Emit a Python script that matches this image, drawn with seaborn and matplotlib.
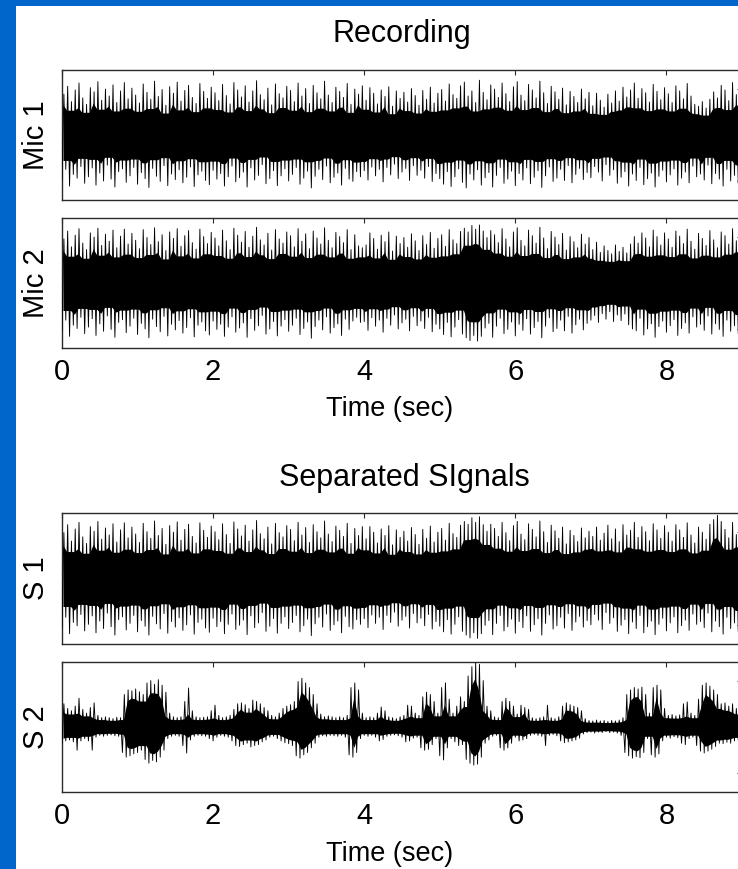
import numpy as np
import pandas as pd
import matplotlib
matplotlib.use("Agg")
import matplotlib.pyplot as plt
import seaborn as sns
from matplotlib.patches import Rectangle

# Envelope samples of each channel, one crest/trough pair every STEP seconds.
STEP = 0.05

mic1_hi = [
    0.88, 1.05, 0.72, 0.97, 1.12, 0.80, 0.66, 1.02, 0.93, 1.15, 0.75, 0.99, 0.84, 1.08, 0.70, 0.95, 1.13, 0.78, 1.01, 0.86,
    0.69, 1.10, 0.92, 0.77, 1.16, 0.83, 0.98, 0.64, 1.04, 0.90, 1.14, 0.73, 0.96, 1.07, 0.81, 0.68, 1.11, 0.94, 0.79, 1.03,
    0.91, 0.74, 1.09, 0.85, 0.67, 1.13, 0.97, 0.82, 1.06, 0.71, 0.95, 1.17, 0.87, 0.76, 1.01, 0.65, 1.10, 0.89, 0.80, 1.05,
    0.96, 0.72, 1.12, 0.84, 1.00, 0.68, 1.07, 0.91, 0.78, 1.16, 0.86, 0.70, 1.03, 0.94, 0.81, 1.11, 0.66, 0.99, 0.88, 1.06,
    0.75, 1.02, 0.90, 0.67, 0.97, 0.83, 1.04, 0.62, 0.95, 0.79, 0.92, 0.71, 1.00, 0.85, 0.64, 0.96, 0.77, 1.03, 0.69, 0.90,
    0.98, 0.73, 1.10, 0.87, 0.79, 1.06, 1.14, 0.84, 0.95, 0.70, 1.18, 0.92, 0.76, 1.08, 0.99, 0.81, 1.12, 0.89, 0.72, 1.04,
    1.15, 0.86, 0.74, 1.09, 0.97, 0.80, 1.16, 0.91, 0.68, 1.05, 0.93, 0.77, 1.01, 0.65, 0.94, 0.83, 0.70, 0.99, 0.78, 0.92,
    0.63, 0.90, 0.75, 0.60, 0.88, 0.69, 0.95, 0.73, 1.03, 0.82, 0.97, 1.12, 0.79, 1.00, 0.91, 0.71, 1.09, 0.94, 0.76, 1.02,
    0.89, 0.70, 1.06, 0.95, 0.78, 1.11, 0.84, 0.66, 0.62, 0.72, 0.58, 0.77, 0.93, 0.80, 1.07, 0.97, 0.74, 1.13, 0.87, 1.01,
]
mic1_lo = [
    -0.97, -0.74, -1.10, -0.85, -0.93, -0.68, -1.04, -0.90, -0.71, -1.08, -0.82, -0.99, -0.65, -0.95, -1.12, -0.79, -0.73, -1.02, -0.88, -0.70,
    -1.06, -0.81, -0.94, -1.13, -0.72, -0.89, -1.00, -0.66, -1.09, -0.84, -0.96, -0.75, -1.03, -0.91, -0.69, -1.11, -0.86, -0.78, -0.98, -1.07,
    -0.76, -0.95, -0.83, -1.10, -0.90, -0.67, -1.01, -0.92, -0.80, -1.12, -0.71, -0.97, -0.87, -0.64, -1.05, -0.94, -0.77, -1.09, -0.88, -0.73,
    -0.99, -0.85, -0.70, -1.06, -0.93, -0.78, -1.14, -0.89, -0.74, -0.96, -0.67, -1.03, -0.91, -0.82, -1.08, -0.72, -0.95, -1.00, -0.79, -0.90,
    -0.77, -0.97, -0.69, -0.88, -0.74, -1.01, -0.70, -0.86, -0.63, -0.94, -0.80, -0.72, -0.98, -0.66, -0.87, -0.76, -0.93, -0.68, -1.00, -0.83,
    -0.94, -1.06, -0.79, -1.11, -0.90, -0.73, -1.02, -1.14, -0.84, -0.97, -0.75, -1.08, -0.92, -0.81, -1.12, -0.87, -0.70, -1.04, -0.95, -0.78,
    -1.09, -0.83, -0.97, -0.71, -1.05, -0.91, -0.77, -1.13, -0.88, -0.69, -1.00, -0.93, -0.74, -0.98, -0.66, -1.03, -0.85, -0.72, -0.96, -0.81,
    -0.92, -0.68, -0.80, -0.99, -0.64, -0.87, -0.75, -1.04, -0.91, -0.79, -1.10, -0.84, -0.98, -0.70, -1.07, -0.94, -0.82, -1.12, -0.89, -0.76,
    -1.01, -0.86, -0.73, -1.08, -0.93, -0.80, -1.03, -0.67, -0.90, -0.84, -0.97, -0.65, -1.05, -0.83, -0.95, -1.10, -0.74, -0.99, -0.87, -1.04,
]

mic2_hi = [
    0.95, 1.12, 0.78, 1.03, 1.17, 0.86, 0.72, 1.08, 0.99, 1.18, 0.81, 1.05, 0.90, 1.14, 0.76, 1.01, 1.16, 0.84, 1.07, 0.92,
    0.74, 1.15, 0.98, 0.83, 1.19, 0.89, 1.04, 0.70, 1.10, 0.96, 1.17, 0.79, 1.02, 1.13, 0.87, 0.73, 1.16, 1.00, 0.85, 1.09,
    0.97, 0.80, 1.14, 0.91, 0.72, 1.18, 1.03, 0.88, 1.11, 0.77, 1.01, 1.20, 0.93, 0.82, 1.07, 0.71, 1.15, 0.95, 0.86, 1.10,
    1.02, 0.78, 1.17, 0.90, 1.06, 0.74, 1.12, 0.97, 0.84, 1.19, 0.92, 0.76, 1.09, 1.00, 0.87, 1.15, 0.72, 1.04, 0.80, 0.76,
    0.82, 1.08, 0.96, 0.73, 1.03, 0.89, 1.10, 0.69, 1.01, 0.85, 0.98, 0.77, 1.06, 0.91, 0.70, 1.02, 0.83, 1.09, 0.75, 0.96,
    1.04, 0.79, 1.15, 0.93, 0.85, 1.11, 1.18, 1.10, 1.24, 1.16, 1.25, 1.12, 0.98, 1.13, 1.04, 0.87, 1.17, 0.95, 0.78, 1.10,
    1.19, 0.92, 0.80, 1.14, 1.02, 0.86, 1.20, 0.97, 0.74, 1.11, 0.99, 0.83, 1.07, 0.71, 1.00, 0.89, 0.76, 1.05, 0.84, 0.98,
    0.72, 0.88, 0.66, 0.80, 0.70, 0.63, 0.82, 0.68, 0.77, 0.65, 0.84, 1.00, 0.86, 1.08, 0.97, 0.78, 1.14, 1.00, 0.82, 1.08,
    0.95, 0.77, 1.12, 1.01, 0.85, 1.16, 0.90, 0.73, 1.07, 0.96, 0.81, 1.13, 0.93, 0.76, 1.10, 1.02, 0.84, 1.17, 0.91, 1.05,
]
mic2_lo = [
    -1.03, -0.80, -1.15, -0.91, -0.98, -0.74, -1.09, -0.95, -0.77, -1.13, -0.88, -1.04, -0.71, -1.00, -1.17, -0.85, -0.79, -1.07, -0.93, -0.76,
    -1.11, -0.87, -0.99, -1.18, -0.78, -0.94, -1.05, -0.72, -1.14, -0.89, -1.01, -0.81, -1.08, -0.96, -0.75, -1.16, -0.91, -0.84, -1.03, -1.12,
    -0.82, -1.00, -0.89, -1.15, -0.95, -0.73, -1.06, -0.97, -0.86, -1.17, -0.77, -1.02, -0.92, -0.70, -1.10, -0.99, -0.83, -1.14, -0.93, -0.79,
    -1.04, -0.91, -0.76, -1.11, -0.98, -0.84, -1.19, -0.94, -0.80, -1.01, -0.73, -1.08, -0.96, -0.88, -1.13, -0.78, -1.00, -0.82, -0.74, -0.85,
    -0.83, -1.02, -0.75, -0.93, -0.80, -1.06, -0.76, -0.91, -0.69, -0.99, -0.86, -0.78, -1.03, -0.72, -0.92, -0.82, -0.98, -0.74, -1.05, -0.89,
    -0.99, -1.11, -0.85, -1.16, -0.95, -0.79, -1.10, -1.18, -1.24, -1.13, -1.25, -1.15, -0.97, -0.87, -1.17, -0.93, -0.76, -1.09, -1.00, -0.84,
    -1.14, -0.89, -1.02, -0.77, -1.10, -0.96, -0.83, -1.18, -0.93, -0.75, -1.05, -0.98, -0.80, -1.03, -0.72, -1.08, -0.90, -0.78, -1.01, -0.87,
    -0.80, -0.70, -0.85, -0.66, -0.78, -0.62, -0.83, -0.69, -0.81, -0.67, -0.90, -0.99, -1.03, -0.76, -1.12, -0.99, -0.88, -1.17, -0.94, -0.82,
    -1.06, -0.92, -0.79, -1.13, -0.98, -0.86, -1.08, -0.73, -0.95, -0.89, -1.02, -0.71, -1.10, -0.88, -1.00, -1.15, -0.80, -1.04, -0.92, -1.09,
]

s1_hi = [
    0.98, 1.15, 0.80, 1.06, 1.20, 0.89, 0.75, 1.11, 1.01, 1.22, 0.84, 1.08, 0.93, 1.17, 0.78, 1.04, 1.19, 0.87, 1.10, 0.95,
    0.77, 1.18, 1.00, 0.86, 1.23, 0.92, 1.07, 0.73, 1.13, 0.99, 1.21, 0.82, 1.05, 1.16, 0.90, 0.76, 1.19, 1.03, 0.88, 1.12,
    1.00, 0.83, 1.17, 0.94, 0.75, 1.21, 1.06, 0.91, 1.14, 0.80, 1.04, 1.24, 0.96, 0.85, 1.10, 0.74, 1.18, 0.98, 0.89, 1.13,
    1.05, 0.81, 1.20, 0.93, 1.09, 0.77, 1.15, 1.00, 0.87, 1.23, 0.95, 0.79, 1.12, 1.03, 0.90, 1.18, 0.75, 1.07, 0.92, 1.11,
    0.85, 1.11, 0.99, 0.76, 1.06, 0.92, 1.13, 0.72, 1.04, 0.88, 1.01, 0.80, 1.09, 0.94, 0.73, 1.05, 0.86, 1.12, 0.78, 0.99,
    1.07, 0.82, 1.18, 0.96, 0.88, 1.14, 1.22, 1.16, 1.30, 1.20, 1.32, 1.15, 1.01, 1.16, 1.07, 0.90, 1.20, 0.98, 0.81, 1.13,
    1.22, 0.95, 0.83, 1.17, 1.05, 0.89, 1.23, 1.00, 0.77, 1.14, 1.02, 0.86, 1.10, 0.74, 1.03, 0.92, 0.79, 1.08, 0.87, 1.01,
    0.90, 1.10, 0.82, 0.97, 1.14, 0.85, 1.06, 0.79, 1.15, 0.93, 1.03, 1.20, 0.88, 1.11, 1.00, 0.81, 1.17, 1.04, 0.86, 1.13,
    0.99, 0.80, 1.15, 1.04, 0.88, 1.19, 0.93, 0.76, 1.10, 0.99, 0.84, 1.16, 1.26, 1.35, 1.22, 1.05, 0.87, 1.20, 0.94, 1.08,
]
s1_lo = [
    -1.06, -0.83, -1.18, -0.94, -1.01, -0.77, -1.12, -0.98, -0.80, -1.16, -0.91, -1.07, -0.74, -1.03, -1.21, -0.88, -0.82, -1.10, -0.96, -0.79,
    -1.14, -0.90, -1.02, -1.21, -0.81, -0.97, -1.08, -0.75, -1.17, -0.92, -1.04, -0.84, -1.11, -0.99, -0.78, -1.19, -0.94, -0.87, -1.06, -1.15,
    -0.85, -1.03, -0.92, -1.18, -0.98, -0.76, -1.09, -1.00, -0.89, -1.20, -0.80, -1.05, -0.95, -0.73, -1.13, -1.02, -0.86, -1.17, -0.96, -0.82,
    -1.07, -0.94, -0.79, -1.14, -1.01, -0.87, -1.22, -0.97, -0.83, -1.04, -0.76, -1.11, -0.99, -0.91, -1.16, -0.81, -1.03, -1.08, -0.88, -0.98,
    -0.86, -1.05, -0.78, -0.96, -0.83, -1.09, -0.79, -0.94, -0.72, -1.02, -0.89, -0.81, -1.06, -0.75, -0.95, -0.85, -1.01, -0.77, -1.08, -0.92,
    -1.02, -1.14, -0.88, -1.19, -0.98, -0.82, -1.13, -1.21, -1.27, -1.16, -1.28, -1.18, -1.00, -0.90, -1.20, -0.96, -0.79, -1.12, -1.03, -0.87,
    -1.17, -0.92, -1.05, -0.80, -1.13, -0.99, -0.86, -1.21, -0.96, -0.78, -1.08, -1.01, -0.83, -1.06, -0.75, -1.11, -0.93, -0.81, -1.04, -0.90,
    -0.99, -0.77, -0.89, -1.09, -0.73, -0.96, -0.84, -1.13, -1.00, -0.88, -1.18, -0.93, -1.07, -0.79, -1.16, -1.03, -0.91, -1.20, -0.98, -0.85,
    -1.12, -0.95, -0.82, -1.16, -1.01, -0.89, -1.11, -0.76, -0.98, -0.92, -1.05, -0.74, -1.14, -0.91, -1.03, -1.19, -0.83, -1.07, -0.95, -1.13,
]

s2_hi = [
    0.50, 0.40, 0.35, 0.45, 0.62, 0.38, 0.30, 0.42, 0.52, 0.25, 0.20, 0.22, 0.20, 0.18, 0.21, 0.20, 0.70, 0.80, 0.78, 0.82,
    0.76, 0.70, 0.95, 1.00, 0.92, 1.02, 0.90, 0.75, 0.30, 0.22, 0.20, 0.22, 0.55, 0.84, 0.35, 0.22, 0.20, 0.21, 0.22, 0.35,
    0.47, 0.25, 0.20, 0.22, 0.25, 0.38, 0.50, 0.52, 0.48, 0.40, 0.58, 0.55, 0.50, 0.42, 0.35, 0.25, 0.22, 0.30, 0.40, 0.45,
    0.48, 0.55, 0.98, 1.05, 0.95, 0.85, 0.70, 0.50, 0.28, 0.22, 0.24, 0.22, 0.20, 0.22, 0.20, 0.25, 0.85, 0.95, 0.80, 0.30,
    0.20, 0.22, 0.20, 0.30, 0.43, 0.35, 0.22, 0.20, 0.18, 0.22, 0.25, 0.47, 0.45, 0.30, 0.25, 0.65, 0.75, 0.70, 0.55, 0.30,
    0.85, 0.95, 0.60, 0.30, 0.45, 0.65, 0.55, 1.10, 1.30, 1.38, 1.35, 1.00, 0.45, 0.35, 0.22, 0.20, 0.55, 0.62, 0.55, 0.45,
    0.28, 0.47, 0.42, 0.38, 0.20, 0.18, 0.20, 0.22, 0.47, 0.20, 0.18, 0.22, 0.45, 0.52, 0.48, 0.45, 0.42, 0.35, 0.18, 0.14,
    0.13, 0.15, 0.13, 0.14, 0.12, 0.14, 0.13, 0.15, 0.20, 0.70, 0.80, 0.85, 0.82, 0.86, 0.70, 0.30, 0.85, 0.90, 0.80, 0.40,
    0.25, 0.27, 0.24, 0.26, 0.50, 0.54, 0.30, 0.25, 0.60, 0.90, 0.95, 0.88, 0.80, 0.70, 0.50, 0.52, 0.45, 0.50, 0.40, 0.35,
]
s2_lo = [
    -0.35, -0.30, -0.28, -0.32, -0.50, -0.30, -0.25, -0.30, -0.50, -0.22, -0.18, -0.20, -0.18, -0.17, -0.19, -0.20, -0.55, -0.65, -0.62, -0.58,
    -0.55, -0.50, -0.70, -0.78, -0.72, -0.75, -0.65, -0.50, -0.25, -0.20, -0.18, -0.20, -0.40, -0.56, -0.28, -0.20, -0.18, -0.19, -0.20, -0.25,
    -0.30, -0.22, -0.18, -0.20, -0.22, -0.30, -0.40, -0.42, -0.38, -0.35, -0.43, -0.40, -0.38, -0.32, -0.28, -0.22, -0.20, -0.25, -0.30, -0.34,
    -0.36, -0.40, -0.62, -0.67, -0.60, -0.55, -0.45, -0.35, -0.22, -0.19, -0.20, -0.18, -0.19, -0.20, -0.18, -0.22, -0.60, -0.65, -0.55, -0.25,
    -0.18, -0.20, -0.18, -0.22, -0.30, -0.27, -0.20, -0.18, -0.17, -0.19, -0.22, -0.32, -0.30, -0.24, -0.22, -0.45, -0.50, -0.48, -0.38, -0.25,
    -0.62, -0.71, -0.45, -0.25, -0.32, -0.40, -0.38, -0.70, -0.78, -0.82, -0.80, -0.65, -0.35, -0.28, -0.20, -0.18, -0.45, -0.50, -0.45, -0.35,
    -0.22, -0.30, -0.28, -0.25, -0.18, -0.16, -0.18, -0.20, -0.40, -0.18, -0.16, -0.19, -0.30, -0.34, -0.32, -0.30, -0.28, -0.24, -0.15, -0.12,
    -0.11, -0.13, -0.11, -0.12, -0.10, -0.12, -0.11, -0.13, -0.18, -0.55, -0.62, -0.67, -0.64, -0.66, -0.55, -0.25, -0.60, -0.65, -0.58, -0.30,
    -0.22, -0.24, -0.21, -0.23, -0.35, -0.38, -0.25, -0.22, -0.40, -0.52, -0.56, -0.52, -0.48, -0.42, -0.35, -0.36, -0.33, -0.35, -0.30, -0.28,
]

channel_labels = ["Mic 1", "Mic 2", "S 1", "S 2"]
group_titles = ["Recording", "Separated SIgnals"]
time_label = "Time (sec)"
time_ticks = [0, 2, 4, 6, 8]
level_ticks = [-1, 1]

channels = [
    (mic1_hi, mic1_lo),
    (mic2_hi, mic2_lo),
    (s1_hi, s1_lo),
    (s2_hi, s2_lo),
]

# ---------------------------------------------------------------- styling
sns.set_style("white")
plt.rcParams["font.family"] = ["Liberation Sans", "DejaVu Sans"]
plt.rcParams["text.color"] = "black"

W, H = 738, 869
fig = plt.figure(figsize=(W / 100, H / 100), dpi=100, facecolor="white")


def fx(px):
    return px / W


def fy(py):
    return 1 - py / H


FRAME = "#2b2b2b"
X_LEFT, X_RIGHT = 62, 742
rows = [(70, 200), (218, 348), (513, 644), (662, 792)]
body_fraction = [0.74, 0.74, 0.72, 0.80]


def trace_frame(hi, lo):
    hi = np.asarray(hi, dtype=float)
    lo = np.asarray(lo, dtype=float)
    t = np.arange(len(hi)) * STEP
    tt = np.column_stack([t, t + STEP / 2]).ravel()
    yy = np.column_stack([lo, hi]).ravel()
    return pd.DataFrame({"t": tt, "amp": yy}), t, hi, lo


def dense_band(vals, frac):
    # the solid part of the trace: smallest neighbouring excursion, scaled
    v = np.abs(np.asarray(vals, dtype=float))
    p = np.pad(v, 1, mode="edge")
    return np.minimum(np.minimum(p[:-2], p[1:-1]), p[2:]) * frac


for i, ((hi_vals, lo_vals), (top, bot)) in enumerate(zip(channels, rows)):
    ax = fig.add_axes([fx(X_LEFT), fy(bot), fx(X_RIGHT - X_LEFT), (bot - top) / H])
    df, t, hi, lo = trace_frame(hi_vals, lo_vals)
    frac = body_fraction[i]
    ax.fill_between(t + STEP / 4, -dense_band(lo, frac), dense_band(hi, frac),
                    color="black", lw=0, zorder=2)
    sns.lineplot(data=df, x="t", y="amp", ax=ax, color="black", lw=0.65,
                 sort=False, estimator=None, zorder=3)
    ax.set_xlim(0, 9)
    ax.set_ylim(-1.4, 1.4)
    ax.set_xticks(time_ticks)
    ax.set_yticks(level_ticks)
    ax.set_yticklabels([])
    ax.set_xlabel("")
    ax.set_ylabel("")
    ax.tick_params(direction="in", top=True, right=True, length=3.6, width=0.8,
                   color=FRAME, labelsize=21, pad=7, labelcolor="black")
    if i in (0, 2):
        ax.set_xticklabels([])
    for s in ax.spines.values():
        s.set_color(FRAME)
        s.set_linewidth(1.0)
    fig.text(fx(36), fy((top + bot) / 2), channel_labels[i], rotation=90,
             ha="center", va="center", fontsize=21)

fig.text(fx(402), fy(41.7), group_titles[0], ha="center", va="baseline", fontsize=22)
fig.text(fx(404), fy(486), group_titles[1], ha="center", va="baseline", fontsize=22)
fig.text(fx(390), fy(416), time_label, ha="center", va="baseline", fontsize=19.5)
fig.text(fx(390), fy(861), time_label, ha="center", va="baseline", fontsize=19.5)

# blue slide frame on the left and top edges
BLUE = "#0066cc"
fig.add_artist(Rectangle((0, 0), fx(16), 1, transform=fig.transFigure,
                         facecolor=BLUE, edgecolor="none", zorder=10))
fig.add_artist(Rectangle((0, fy(6)), 1, 6 / H, transform=fig.transFigure,
                         facecolor=BLUE, edgecolor="none", zorder=10))

fig.savefig("out.png", dpi=100, facecolor="white")
